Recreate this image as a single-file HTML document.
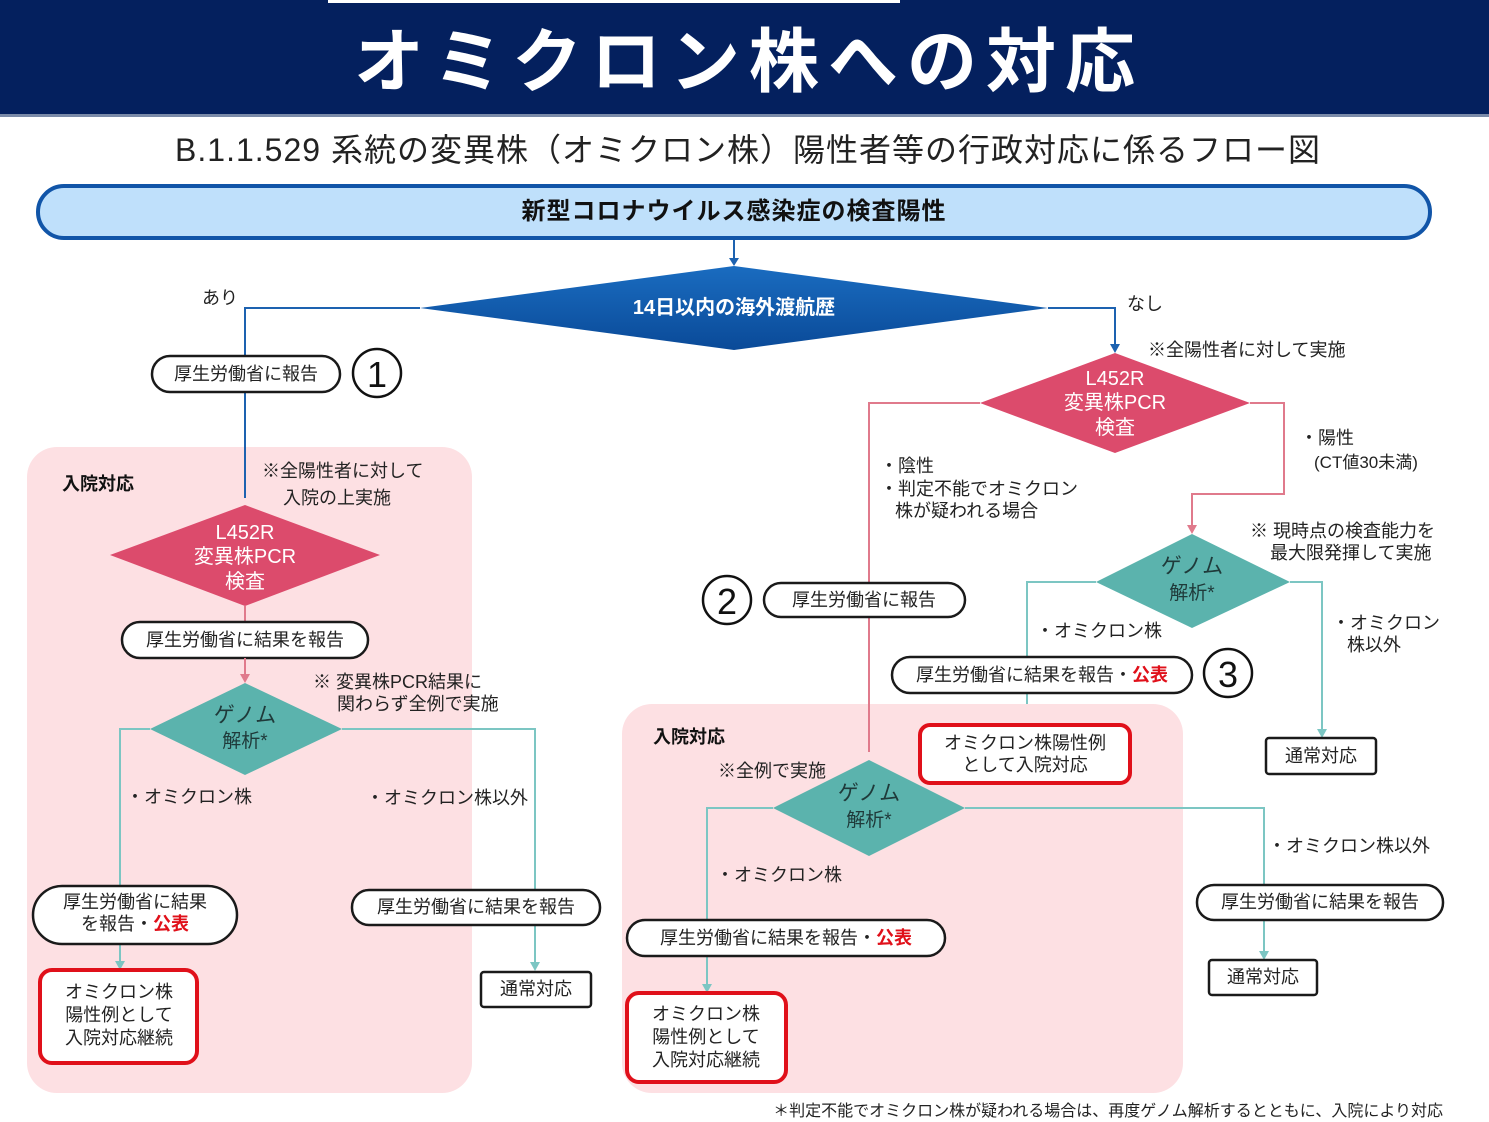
<!DOCTYPE html>
<html><head><meta charset="utf-8"><style>
html,body{margin:0;padding:0;background:#fff;}
svg{display:block;font-family:"Liberation Sans","Noto Sans CJK JP",sans-serif;}
.t{font-size:18px;fill:#222;}
.c{text-anchor:middle;}
.w{fill:#fff;font-size:20px;text-anchor:middle;}
.g{fill:#1f3a3a;font-size:21px;text-anchor:middle;}
.pill{fill:#fff;stroke:#1a1a1a;stroke-width:2.5;}
.rb{fill:#fff;stroke:#e0101a;stroke-width:4;}
.tl{stroke:#7cc6c3;stroke-width:2;fill:none;}
.rl{stroke:#e07a8c;stroke-width:2;fill:none;}
.bl{stroke:#1d62b0;stroke-width:2;fill:none;}
.red{fill:#e0101a;font-weight:bold;}
</style></head><body>
<svg width="1489" height="1122" viewBox="0 0 1489 1122" xmlns="http://www.w3.org/2000/svg">
<defs>
<linearGradient id="bg" x1="0" y1="0" x2="0" y2="1"><stop offset="0" stop-color="#1a6cc0"/><stop offset="1" stop-color="#0a4a98"/></linearGradient>
</defs>
<rect x="0" y="0" width="1489" height="114" fill="#04205e"/>
<rect x="328" y="0" width="572" height="3" fill="#fff"/>
<rect x="0" y="114" width="1489" height="3" fill="#7a8aa8"/>
<text x="749" y="86" font-size="70" fill="#fff" text-anchor="middle" font-weight="bold" letter-spacing="9">オミクロン株への対応</text>
<text x="748" y="161" font-size="32" fill="#222" text-anchor="middle" letter-spacing="1">B.1.1.529 系統の変異株（オミクロン株）陽性者等の行政対応に係るフロー図</text>

<rect x="38" y="186" width="1392" height="52" rx="26" fill="#bfe0fb" stroke="#1155a8" stroke-width="4"/>
<text x="734" y="219" font-size="24" font-weight="bold" text-anchor="middle" fill="#111" letter-spacing="1">新型コロナウイルス感染症の検査陽性</text>

<line x1="734" y1="240" x2="734" y2="258" class="bl"/><path d="M729,258 L739,258 L734,266z" fill="#1d62b0"/>
<polygon points="420,308 734,266 1048,308 734,350" fill="url(#bg)"/>
<text x="734" y="314" font-size="20" font-weight="bold" fill="#fff" text-anchor="middle">14日以内の海外渡航歴</text>
<polyline points="420,308 245,308 245,498" class="bl"/><path d="M240,497 L250,497 L245,506z" fill="#1d62b0"/>
<polyline points="1048,308 1115,308 1115,345" class="bl"/><path d="M1110,344 L1120,344 L1115,353z" fill="#1d62b0"/>
<text x="202" y="304" class="t">あり</text>
<text x="1127" y="310" class="t">なし</text>

<rect x="152" y="356" width="188" height="36" rx="18" class="pill"/>
<text x="246" y="380" class="t c">厚生労働省に報告</text>
<circle cx="377" cy="373" r="24" fill="#fff" stroke="#111" stroke-width="2.5"/>
<text x="377" y="387" font-size="36" text-anchor="middle" fill="#111">1</text>

<rect x="27" y="447" width="445" height="646" rx="30" fill="#fde0e3"/>
<line x1="245" y1="447" x2="245" y2="498" class="bl"/>
<text x="62" y="490" font-size="18" font-weight="bold" fill="#111">入院対応</text>
<text x="262" y="477" class="t">※全陽性者に対して</text>
<text x="283" y="504" class="t">入院の上実施</text>
<polygon points="110,555 245,505 380,555 245,606" fill="#dc4b6c"/>
<text x="245" y="539" class="w">L452R</text>
<text x="245" y="563" class="w">変異株PCR</text>
<text x="245" y="588" class="w">検査</text>
<line x1="245" y1="606" x2="245" y2="622" class="rl"/>
<rect x="122" y="622" width="246" height="36" rx="18" class="pill"/>
<text x="245" y="646" class="t c">厚生労働省に結果を報告</text>
<line x1="245" y1="658" x2="245" y2="675" class="rl"/><path d="M240,674 L250,674 L245,683z" fill="#e07a8c"/>
<text x="313" y="688" class="t">※ 変異株PCR結果に</text>
<text x="337" y="710" class="t">関わらず全例で実施</text>
<polygon points="150,729 245,683 342,729 245,775" fill="#5bb3ad"/>
<text x="245" y="722" class="g">ゲノム</text>
<text x="245" y="747" class="g" style="font-size:19px">解析*</text>
<polyline points="150,729 120,729 120,886" class="tl"/>
<line x1="120" y1="944" x2="120" y2="962" class="tl"/><path d="M115,961 L125,961 L120,970z" fill="#7cc6c3"/>
<polyline points="342,729 535,729 535,890" class="tl"/>
<line x1="535" y1="925" x2="535" y2="963" class="tl"/><path d="M530,962 L540,962 L535,971z" fill="#7cc6c3"/>
<text x="126" y="803" class="t">・オミクロン株</text>
<text x="366" y="804" class="t">・オミクロン株以外</text>
<rect x="33" y="886" width="204" height="58" rx="29" class="pill"/>
<text x="135" y="908" class="t c">厚生労働省に結果</text>
<text x="135" y="930" class="t c">を報告・<tspan class="red">公表</tspan></text>
<rect x="40" y="970" width="157" height="93" rx="12" class="rb"/>
<text x="119" y="998" class="t c">オミクロン株</text>
<text x="119" y="1021" class="t c">陽性例として</text>
<text x="119" y="1044" class="t c">入院対応継続</text>
<rect x="352" y="890" width="248" height="35" rx="17" class="pill"/>
<text x="476" y="913" class="t c">厚生労働省に結果を報告</text>
<rect x="481" y="972" width="110" height="35" rx="3" class="pill"/>
<text x="536" y="995" class="t c">通常対応</text>

<text x="1148" y="356" class="t">※全陽性者に対して実施</text>
<polygon points="980,403 1115,353 1250,403 1115,453" fill="#dc4b6c"/>
<text x="1115" y="385" class="w">L452R</text>
<text x="1115" y="409" class="w">変異株PCR</text>
<text x="1115" y="434" class="w">検査</text>
<polyline points="980,403 869,403 869,752" class="rl"/><path d="M864,751 L874,751 L869,760z" fill="#e07a8c"/>
<polyline points="1250,403 1284,403 1284,494 1192,494 1192,526" class="rl"/><path d="M1187,525 L1197,525 L1192,534z" fill="#e07a8c"/>
<text x="1300" y="444" class="t">・陽性</text>
<text x="1314" y="468" class="t" style="font-size:17px">(CT値30未満)</text>
<text x="880" y="472" class="t">・陰性</text>
<text x="880" y="495" class="t">・判定不能でオミクロン</text>
<text x="895" y="517" class="t">株が疑われる場合</text>
<text x="1250" y="537" class="t">※ 現時点の検査能力を</text>
<text x="1270" y="559" class="t">最大限発揮して実施</text>
<polygon points="1096,582 1192,534 1290,582 1192,628" fill="#5bb3ad"/>
<text x="1192" y="573" class="g">ゲノム</text>
<text x="1192" y="599" class="g" style="font-size:19px">解析*</text>
<polyline points="1096,582 1027,582 1027,657" class="tl"/>
<line x1="1027" y1="693" x2="1027" y2="717" class="tl"/><path d="M1022,716 L1032,716 L1027,725z" fill="#7cc6c3"/>
<polyline points="1290,582 1322,582 1322,730" class="tl"/><path d="M1317,729 L1327,729 L1322,738z" fill="#7cc6c3"/>
<text x="1036" y="637" class="t">・オミクロン株</text>
<text x="1332" y="629" class="t">・オミクロン</text>
<text x="1347" y="651" class="t">株以外</text>
<circle cx="727" cy="600" r="24" fill="#fff" stroke="#111" stroke-width="2.5"/>
<text x="727" y="614" font-size="36" text-anchor="middle" fill="#111">2</text>
<rect x="764" y="583" width="201" height="34" rx="17" class="pill"/>
<text x="864" y="606" class="t c">厚生労働省に報告</text>
<rect x="892" y="657" width="300" height="36" rx="18" class="pill"/>
<text x="1042" y="681" class="t c">厚生労働省に結果を報告・<tspan class="red">公表</tspan></text>
<circle cx="1228" cy="673" r="24" fill="#fff" stroke="#111" stroke-width="2.5"/>
<text x="1228" y="687" font-size="36" text-anchor="middle" fill="#111">3</text>
<rect x="1266" y="738" width="110" height="36" rx="3" class="pill"/>
<text x="1321" y="762" class="t c">通常対応</text>

<rect x="622" y="704" width="561" height="389" rx="30" fill="#fde0e3"/>
<line x1="869" y1="704" x2="869" y2="752" class="rl"/>
<rect x="920" y="725" width="210" height="58" rx="10" class="rb"/>
<text x="1025" y="749" class="t c">オミクロン株陽性例</text>
<text x="1025" y="771" class="t c">として入院対応</text>
<text x="653" y="743" font-size="18" font-weight="bold" fill="#111">入院対応</text>
<text x="718" y="777" class="t">※全例で実施</text>
<polygon points="773,808 869,760 965,808 869,856" fill="#5bb3ad"/>
<text x="869" y="800" class="g">ゲノム</text>
<text x="869" y="826" class="g" style="font-size:19px">解析*</text>
<polyline points="773,808 707,808 707,920" class="tl"/>
<line x1="707" y1="956" x2="707" y2="985" class="tl"/><path d="M702,984 L712,984 L707,993z" fill="#7cc6c3"/>
<polyline points="965,808 1264,808 1264,885" class="tl"/>
<line x1="1264" y1="920" x2="1264" y2="952" class="tl"/><path d="M1259,951 L1269,951 L1264,960z" fill="#7cc6c3"/>
<text x="716" y="881" class="t">・オミクロン株</text>
<text x="1268" y="852" class="t">・オミクロン株以外</text>
<rect x="627" y="920" width="318" height="36" rx="18" class="pill"/>
<text x="786" y="944" class="t c">厚生労働省に結果を報告・<tspan class="red">公表</tspan></text>
<rect x="627" y="993" width="159" height="89" rx="12" class="rb"/>
<text x="706" y="1020" class="t c">オミクロン株</text>
<text x="706" y="1043" class="t c">陽性例として</text>
<text x="706" y="1066" class="t c">入院対応継続</text>
<rect x="1197" y="885" width="246" height="35" rx="17" class="pill"/>
<text x="1320" y="908" class="t c">厚生労働省に結果を報告</text>
<rect x="1209" y="960" width="108" height="35" rx="3" class="pill"/>
<text x="1263" y="983" class="t c">通常対応</text>

<text x="1443" y="1116" font-size="16" fill="#222" text-anchor="end">＊判定不能でオミクロン株が疑われる場合は、再度ゲノム解析するとともに、入院により対応</text>
</svg>
</body></html>
